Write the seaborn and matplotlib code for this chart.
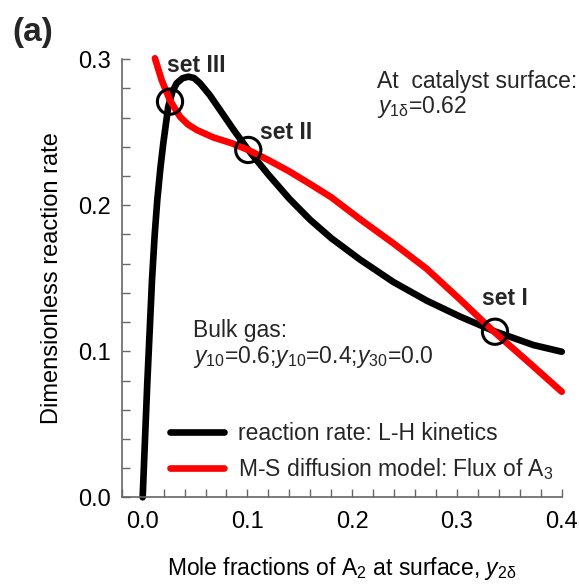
import matplotlib
matplotlib.use("Agg")
import matplotlib.pyplot as plt
import pandas as pd
import seaborn as sns
from matplotlib.ticker import MultipleLocator, FormatStrFormatter

# ---- data ----
lh_x = [0.0, 0.0044, 0.009, 0.0115, 0.014, 0.017, 0.0197, 0.0244, 0.0285, 0.0325, 0.038,
        0.0435, 0.049, 0.0547, 0.064, 0.0738, 0.087, 0.1008, 0.12, 0.14, 0.16, 0.18,
        0.2075, 0.2392, 0.2711, 0.3029, 0.3347, 0.3729, 0.40]
lh_y = [0.0, 0.0781, 0.150, 0.180, 0.2040, 0.2260, 0.2425, 0.2675, 0.278, 0.2836, 0.2870,
        0.2881, 0.2872, 0.2836, 0.2755, 0.2653, 0.2515, 0.2379, 0.2210, 0.2045, 0.1900, 0.1775,
        0.1628, 0.1475, 0.1347, 0.1238, 0.1140, 0.1043, 0.0997]

ms_x = [0.0117, 0.0181, 0.026, 0.0356, 0.043, 0.0516, 0.0674, 0.085, 0.1008, 0.12, 0.14,
        0.16, 0.18, 0.2075, 0.2392, 0.2711, 0.3029, 0.3347, 0.37, 0.40]
ms_y = [0.3007, 0.2858, 0.2720, 0.2607, 0.2555, 0.2516, 0.2465, 0.2425, 0.2379, 0.2310, 0.2232,
        0.2145, 0.2055, 0.1905, 0.1740, 0.1565, 0.1355, 0.1138, 0.0915, 0.0723]

set_names = ["set III", "set II", "set I"]
set_x = [0.0261, 0.1008, 0.3363]
set_y = [0.2710, 0.2379, 0.1134]

series_labels = ["reaction rate: L-H kinetics", "M-S diffusion model: Flux of A$_3$"]
series_colors = ["#000000", "#ff0000"]

# ---- style ----
sns.set_theme(style="ticks")
plt.rcParams["font.family"] = ["Liberation Sans", "DejaVu Sans"]
plt.rcParams["mathtext.fontset"] = "custom"
plt.rcParams["mathtext.rm"] = "Liberation Sans"
plt.rcParams["mathtext.it"] = "Liberation Sans:italic"
plt.rcParams["mathtext.bf"] = "Liberation Sans:bold"

df = pd.DataFrame({
    "x": lh_x + ms_x,
    "y": lh_y + ms_y,
    "series": [series_labels[0]] * len(lh_x) + [series_labels[1]] * len(ms_x),
})

fig = plt.figure(figsize=(5.79, 5.87), dpi=100)
ax = fig.add_axes([0.2102, 0.1528, 0.760, 0.7462])

sns.lineplot(data=df, x="x", y="y", hue="series", hue_order=series_labels,
             palette=dict(zip(series_labels, series_colors)),
             sort=False, estimator=None, linewidth=4.8, ax=ax,
             solid_capstyle="round", solid_joinstyle="round", clip_on=False)

ax.scatter(set_x, set_y, s=330, facecolors="none", edgecolors="black",
           linewidths=2.2, zorder=5, clip_on=False)

ax.set_xlim(-0.02, 0.4)
ax.set_ylim(0.0, 0.3)
ax.xaxis.set_major_locator(MultipleLocator(0.1))
ax.yaxis.set_major_locator(MultipleLocator(0.1))
ax.xaxis.set_minor_locator(MultipleLocator(0.02))
ax.yaxis.set_minor_locator(MultipleLocator(0.02))
ax.xaxis.set_major_formatter(FormatStrFormatter("%.1f"))
ax.yaxis.set_major_formatter(FormatStrFormatter("%.1f"))

for s in ["top", "right"]:
    ax.spines[s].set_visible(False)
for s in ["left", "bottom"]:
    ax.spines[s].set_color("#666666")
    ax.spines[s].set_linewidth(1.2)

ax.tick_params(which="both", direction="in", length=5.5, width=1.0,
               color="#666666", labelsize=17, labelcolor="black")
ax.tick_params(axis="y", which="both", pad=8)
ax.tick_params(axis="x", which="both", pad=10)

ax.set_xlabel(r"Mole fractions of A$_2$ at surface, $y_{\mathrm{2\delta}}$",
              fontsize=16.5, labelpad=16, color="black")
ax.set_ylabel("Dimensionless reaction rate", fontsize=17, labelpad=11, color="black")

# annotations
for name, tx, ty in zip(set_names, [0.0232, 0.112, 0.3236], [0.2915, 0.2454, 0.1317]):
    ax.text(tx, ty, name, fontsize=16.5, fontweight="bold", ha="left", va="baseline")

ax.text(0.2237, 0.2803, "At  catalyst surface:", fontsize=16.5, ha="left", va="baseline")
ax.text(0.2237, 0.2634, r"$y_{\mathrm{1\delta}}$=0.62", fontsize=16.5, ha="left", va="baseline")
ax.text(0.0483, 0.110, "Bulk gas:", fontsize=16.5, ha="left", va="baseline")
ax.text(0.0483, 0.0918, r"$y_{10}$=0.6;$y_{10}$=0.4;$y_{30}$=0.0", fontsize=16.5,
        ha="left", va="baseline")

if ax.get_legend() is not None:
    ax.get_legend().remove()
handles = ax.get_lines()[:2]
ax.legend(handles=handles, labels=series_labels, loc="upper left",
          bbox_to_anchor=(0.1098, 0.171), frameon=False, fontsize=16.5,
          borderpad=0, borderaxespad=0, handlelength=2.35, handletextpad=0.6,
          labelspacing=0.45)

fig.text(0.022, 1 - 33 / 587, "(a)", fontsize=24, fontweight="bold",
         ha="left", va="center")

fig.savefig("out.png", dpi=100)
